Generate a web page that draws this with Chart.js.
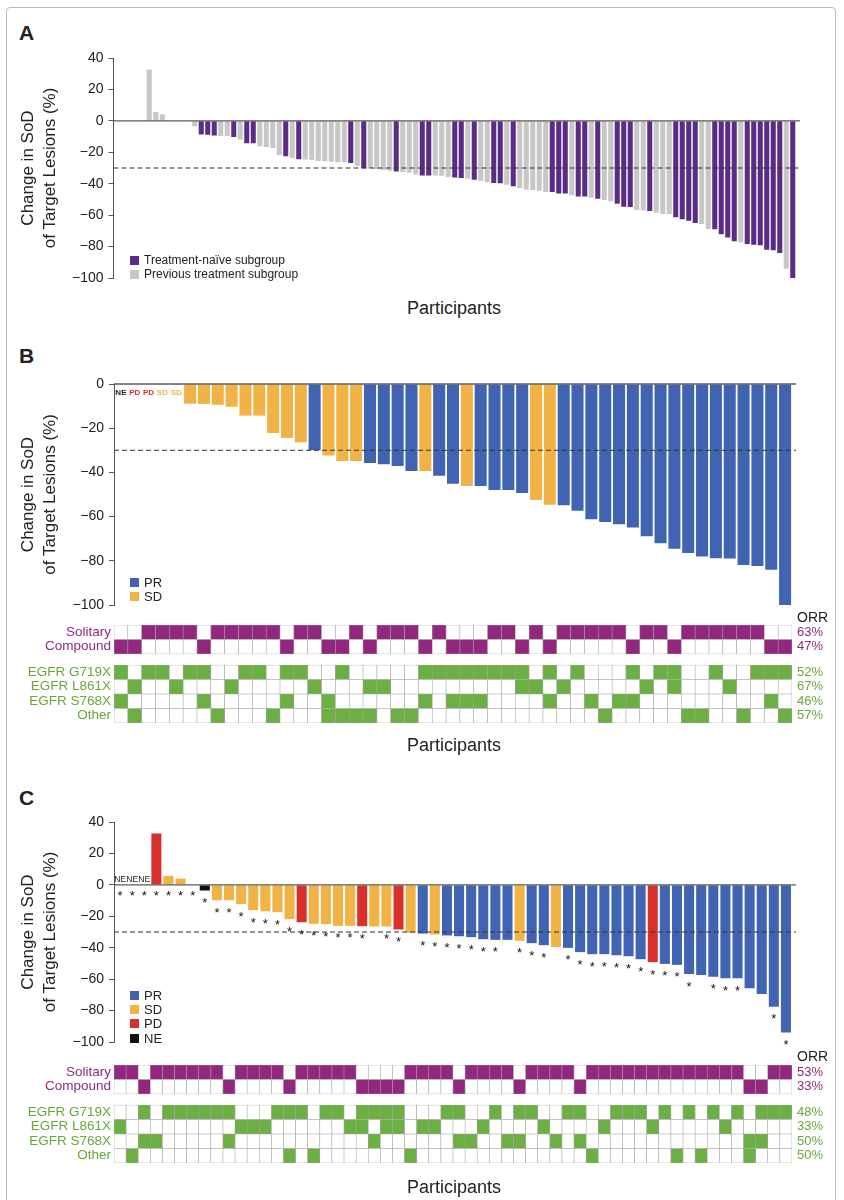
<!DOCTYPE html>
<html>
<head>
<meta charset="utf-8">
<script src="https://cdn.jsdelivr.net/npm/chart.js@4.4.1/dist/chart.umd.min.js"></script>
<style>
html,body{margin:0;padding:0;background:#fff;}
body{font-family:'Liberation Sans',Arial,Helvetica,sans-serif;color:#222;}
#page{position:relative;width:844px;height:1200px;overflow:hidden;}
#frame{position:absolute;left:6px;top:7px;width:828px;height:1400px;border:1.5px solid #a9bfd6;border-radius:4px;}
canvas{position:absolute;left:0;}
.t{position:absolute;white-space:nowrap;line-height:1;}
.letter{font-weight:bold;font-size:21px;}
.part{font-size:18px;left:113px;width:682px;text-align:center;}
.orr{font-size:14px;left:797px;}
.lg{position:absolute;left:130px;white-space:nowrap;}
.lg div{display:flex;align-items:center;}
.lg i{display:inline-block;width:9px;height:9px;margin-right:5px;}
</style>
</head>
<body>
<div id="page">
<div id="frame"></div>

<div class="t letter" style="left:19px;top:22px">A</div>
<div class="t letter" style="left:19px;top:345px">B</div>
<div class="t letter" style="left:19px;top:787px">C</div>

<canvas id="cA" width="844" height="250" style="top:43px"></canvas>
<canvas id="cB" width="844" height="251" style="top:369px"></canvas>
<canvas id="gB" width="844" height="128" style="top:610px"></canvas>
<canvas id="cC" width="844" height="250" style="top:807px"></canvas>
<canvas id="gC" width="844" height="128" style="top:1050px"></canvas>

<div class="lg" style="top:253px;font-size:12px">
  <div style="height:14px"><i style="background:#5b2c86"></i>Treatment-naïve subgroup</div>
  <div style="height:14px"><i style="background:#c7c7c7"></i>Previous treatment subgroup</div>
</div>
<div class="lg" style="top:575.5px;font-size:13px">
  <div style="height:14.3px"><i style="background:#4064b2"></i>PR</div>
  <div style="height:14.3px"><i style="background:#f1b246"></i>SD</div>
</div>
<div class="lg" style="top:988px;font-size:13px">
  <div style="height:14.3px"><i style="background:#4064b2"></i>PR</div>
  <div style="height:14.3px"><i style="background:#f1b246"></i>SD</div>
  <div style="height:14.3px"><i style="background:#d8312b"></i>PD</div>
  <div style="height:14.3px"><i style="background:#111111"></i>NE</div>
</div>

<div class="t part" style="top:299px">Participants</div>
<div class="t part" style="top:736px">Participants</div>
<div class="t part" style="top:1178px">Participants</div>

<div class="t orr" style="top:610px">ORR</div>
<div class="t orr" style="top:1049px">ORR</div>
</div>

<script>
// ---------------- DATA ----------------
const yTitle = ['Change in SoD', 'of Target Lesions (%)'];
const ticksA = [40, 20, 0, -20, -40, -60, -80, -100];
const ticksB = [0, -20, -40, -60, -80, -100];
const ticksC = [40, 20, 0, -20, -40, -60, -80, -100];
const threshold = -30;

// Panel A (null = empty slot)
const valuesA = [null,null,null,null,null, 32.7,5.7,4.2, null,null,null,null,
 -3.4,-8.7,-8.9,-9.3,-9.6,-9.6,-10.2,-11.9,-14.2,-14.2,
 -16.1,-16.6,-17.2,-21.7,-22.5,-23.6,-24.4,-24.6,-24.8,-25.5,
 -25.7,-26.1,-26.3,-26.3,-26.8,-28.7,-30.1,-30.1,-30.6,-31.2,
 -31.8,-32.3,-32.5,-33.1,-34.2,-34.8,-34.8,-34.8,-35.0,-35.7,
 -36.1,
 -36.3,-36.9,-37.4,-38.2,-39.1,-39.5,-39.7,-40.6,-41.6,-42.7,
 -43.7,-44.0,-44.4,-45.2,-45.2,-46.3,-46.3,-47.3,-48.2,-48.2,
 -49.0,-49.5,-50.3,-51.2,-52.7,-54.6,-54.8,-56.7,-57.1,-57.3,
 -58.4,-59.2,-59.2,-61.4,-62.6,-63.5,-65.0,-65.6,-68.8,-69.0,
 -72.2,-74.3,-76.6,-77.3,-78.3,-78.8,-79.2,-82.0,-82.4,-84.1,
 -94.1,-100];
// N = treatment-naive, P = previous treatment
const groupA = [null,null,null,null,null, 'P','P','P', null,null,null,null,
 'P','N','N','N','P','P','N','P','N','N',
 'P','P','P','P','N','P','N','P','P','P',
 'P','P','P','P','N','P','N','P','P','P',
 'P','N','P','P','P','N','N','P','P','P',
 'N',
 'N','P','N','P','P','N','N','P','N','P',
 'P','P','P','P','N','N','N','P','N','N',
 'P','N','P','P','N','N','N','P','P','N',
 'P','P','P','N','N','N','N','P','P','N',
 'N','N','N','P','N','N','N','N','N','N',
 'P','N'];

// Panel B
const valuesB = [null,null,null,null,null,
 -8.9,-9.0,-9.4,-10.3,-14.3,-14.3,-22.2,-24.4,-26.4,-30.0,
 -32.3,-34.8,-34.8,-35.7,-36.3,-37.1,-39.4,-39.4,-41.5,-45.1,
 -46.2,-46.2,-48.0,-48.0,-49.3,-52.5,-54.6,-54.9,-57.3,-61.2,
 -62.4,-63.5,-64.9,-68.9,-72.1,-74.5,-76.5,-78.1,-78.9,-79.0,
 -81.9,-82.4,-84.0,-100];
const responseB = ['NE','PD','PD','SD','SD',
 'SD','SD','SD','SD','SD','SD','SD','SD','SD','PR',
 'SD','SD','SD','PR','PR','PR','PR','SD','PR','PR',
 'SD','PR','PR','PR','PR','SD','SD','PR','PR','PR',
 'PR','PR','PR','PR','PR','PR','PR','PR','PR','PR',
 'PR','PR','PR','PR'];
const solitaryB = [0,0,1,1,1,1,0,1,1,1, 1,1,0,1,1,0,0,1,0,1, 1,1,0,1,0,0,0,1,1,0, 1,0,1,1,1,1,1,0,1,1, 0,1,1,1,1,1,1,0,0];
const compoundB = [1,1,0,0,0,0,1,0,0,0, 0,0,1,0,0,1,1,0,1,0, 0,0,1,0,1,1,1,0,0,1, 0,1,0,0,0,0,0,1,0,0, 1,0,0,0,0,0,0,1,1];
const g719xB    = [1,0,1,1,0,1,1,0,0,1, 1,0,1,1,0,0,1,0,0,0, 0,0,1,1,1,1,1,1,1,1, 0,1,0,1,0,0,0,1,0,1, 1,0,0,1,0,0,1,1,1];
const l861xB    = [0,1,0,0,1,0,0,0,1,0, 0,0,0,0,1,0,0,0,1,1, 0,0,0,0,0,0,0,0,0,1, 1,0,1,0,0,0,0,0,1,0, 1,0,0,0,1,0,0,0,0];
const s768xB    = [1,0,0,0,0,0,1,0,0,0, 0,0,1,0,0,1,0,0,0,0, 0,0,1,0,1,1,1,0,0,0, 0,1,0,0,1,0,1,1,0,0, 0,0,0,0,0,0,0,1,0];
const otherB    = [0,1,0,0,0,0,0,1,0,0, 0,1,0,0,0,1,1,1,1,0, 1,1,0,0,0,0,0,0,0,0, 0,0,0,0,0,1,0,0,0,0, 0,1,1,0,0,1,0,0,1];
const orrB = ['63%','47%','52%','67%','46%','57%'];

// Panel C
const valuesC = [null,null,null, 32.7,5.7,4.0,0,-3.6,-9.8,-9.8,
 -12.3,-16.1,-16.8,-17.4,-21.8,-23.8,-24.8,-25.0,-26.1,-26.1,
 -26.3,-26.5,-26.5,-28.4,-30.5,-31.0,-31.6,-32.2,-32.7,-33.3,
 -34.6,-35.0,-35.0,-35.6,-37.1,-38.4,-39.5,-40.1,-42.8,-44.1,
 -44.1,-44.8,-45.4,-47.3,-49.2,-50.3,-50.9,-56.8,-57.3,-58.5,
 -59.4,-59.4,-65.8,-69.4,-77.6,-94.0];
const responseC = ['NE','NE','NE','PD','SD','SD','SD','NE','SD','SD',
 'SD','SD','SD','SD','SD','PD','SD','SD','SD','SD',
 'PD','SD','SD','PD','SD','PR','SD','PR','PR','PR',
 'PR','PR','PR','SD','PR','PR','SD','PR','PR','PR',
 'PR','PR','PR','PR','PD','PR','PR','PR','PR','PR',
 'PR','PR','PR','PR','PR','PR'];
const starC = [1,1,1,1,1,1,1,1,1,1, 1,1,1,1,1,1,1,1,1,1, 1,0,1,1,0,1,1,1,1,1, 1,1,0,1,1,1,0,1,1,1, 1,1,1,1,1,1,1,1,0,1, 1,1,0,0,1,1];
const solitaryC = [1,1,0,1,1,1,1,1,1,0, 1,1,1,1,0,1,1,1,1,1, 0,0,0,0,1,1,1,1,0,1, 1,1,1,0,1,1,1,1,0,1, 1,1,1,1,1,1,1,1,1,1, 1,1,0,0,1,1];
const compoundC = [0,0,1,0,0,0,0,0,0,1, 0,0,0,0,1,0,0,0,0,0, 1,1,1,1,0,0,0,0,1,0, 0,0,0,1,0,0,0,0,1,0, 0,0,0,0,0,0,0,0,0,0, 0,0,1,1,0,0];
const g719xC = [0,0,1,0,1,1,1,1,1,1, 0,0,0,1,1,1,0,1,1,0, 1,1,1,1,0,0,0,1,1,0, 0,1,0,1,1,0,0,1,1,0, 0,1,1,1,0,1,0,1,0,1, 0,1,0,1,1,1];
const l861xC = [1,0,0,0,0,0,0,0,0,0, 1,1,1,0,0,0,0,0,0,1, 1,0,1,1,0,1,1,0,0,0, 1,0,0,0,0,1,0,0,0,0, 1,0,0,0,1,0,0,0,0,0, 1,0,0,0,0,0];
const s768xC = [0,0,1,1,0,0,0,0,0,1, 0,0,0,0,0,0,0,0,0,0, 0,1,0,0,0,0,0,0,1,1, 0,0,1,1,0,0,1,0,1,0, 0,0,0,0,0,0,0,0,0,0, 0,0,1,1,0,0];
const otherC = [0,1,0,0,0,0,0,0,0,0, 0,0,0,0,1,0,1,0,0,0, 0,0,0,0,1,0,0,0,0,0, 0,0,0,0,0,0,0,0,0,1, 0,0,0,0,0,0,1,0,1,0, 0,0,1,0,0,0];
const orrC = ['53%','33%','48%','33%','50%','50%'];

const rowLabels = ['Solitary','Compound','EGFR G719X','EGFR L861X','EGFR S768X','Other'];

// ---------------- STYLE ----------------
const FONT = "'Liberation Sans', Arial, Helvetica, sans-serif";
Chart.defaults.font.family = FONT;
Chart.defaults.color = '#222';
Chart.defaults.animation = false;

const COL = {N:'#5b2c86', P:'#c7c7c7', PR:'#4064b2', SD:'#f1b246', PD:'#d8312b', NE:'#111111'};
const TXT = {NE:'#222222', PD:'#d8312b', SD:'#f1b246', PR:'#4064b2'};
const purpleCell = '#93267f', greenCell = '#6cb043';
const purpleText = '#8e2a80', greenText = '#67a83d';

const fmt = v => v < 0 ? '\u2212' + Math.abs(v) : String(v);

function overlayPlugin(values, resp, mode, stars) {
  return {
    id: 'overlay',
    afterDatasetsDraw(chart) {
      const {ctx, chartArea: ca, scales: {x, y}} = chart;
      const right = ca.right + 4;
      ctx.save();
      const y0 = y.getPixelForValue(0);
      ctx.strokeStyle = '#5a5a5a'; ctx.lineWidth = 1.3;
      ctx.beginPath(); ctx.moveTo(ca.left, y0); ctx.lineTo(right, y0); ctx.stroke();
      const yt = y.getPixelForValue(threshold);
      ctx.setLineDash([5, 3]); ctx.strokeStyle = '#333'; ctx.lineWidth = 1.1;
      ctx.beginPath(); ctx.moveTo(ca.left, yt); ctx.lineTo(right, yt); ctx.stroke();
      ctx.setLineDash([]);
      if (mode) {
        ctx.textAlign = 'center'; ctx.textBaseline = 'middle';
        values.forEach((v, i) => {
          if (v !== null) return;
          const px = x.getPixelForValue(i);
          if (mode === 'below') {
            ctx.font = 'bold 8px ' + FONT; ctx.fillStyle = TXT[resp[i]];
            ctx.fillText(resp[i], px, y0 + 9);
          } else {
            ctx.font = '8.5px ' + FONT; ctx.fillStyle = '#222';
            ctx.fillText(resp[i], px, y0 - 5);
          }
        });
      }
      if (stars) {
        ctx.textAlign = 'center'; ctx.textBaseline = 'alphabetic';
        ctx.font = '13px ' + FONT; ctx.fillStyle = '#111';
        stars.forEach((s, i) => {
          if (!s) return;
          const v = values[i];
          const px = x.getPixelForValue(i);
          const cy = (v === null || v >= 0) ? y0 + 8 : y.getPixelForValue(v) + 9;
          ctx.fillText('*', px, cy + 7.4);
        });
      }
      ctx.restore();
    }
  };
}

function barChart(id, values, colors, ticks, leftW, rightPad, catPct, plugin) {
  return new Chart(document.getElementById(id), {
    type: 'bar',
    data: {
      labels: values.map((_, i) => i + 1),
      datasets: [{data: values, backgroundColor: colors, borderWidth: 0,
                  barPercentage: 1, categoryPercentage: catPct}]
    },
    options: {
      responsive: false, maintainAspectRatio: false, animation: false,
      layout: {padding: {top: 15, bottom: 15, left: 0, right: rightPad}},
      plugins: {legend: {display: false}, tooltip: {enabled: false}},
      scales: {
        x: {type: 'category', display: false, offset: true},
        y: {
          min: Math.min(...ticks), max: Math.max(...ticks),
          afterBuildTicks: ax => { ax.ticks = ticks.map(v => ({value: v})); },
          afterFit: ax => { ax.width = leftW; },
          ticks: {callback: v => fmt(v), font: {size: 14}, color: '#222', padding: 5, autoSkip: false},
          grid: {drawOnChartArea: false, drawTicks: true, tickLength: 5, color: '#555', lineWidth: 1},
          border: {display: true, color: '#555', width: 1},
          title: {display: true, text: yTitle, font: {size: 17, lineHeight: 1.3}, color: '#222', padding: {top: 17, bottom: 0}}
        }
      }
    },
    plugins: [plugin]
  });
}

// Panel A
barChart('cA', valuesA, groupA.map(g => g ? COL[g] : 'transparent'), ticksA, 113.5, 48, 0.78,
  overlayPlugin(valuesA, null, null, null));
// Panel B
barChart('cB', valuesB, responseB.map(r => COL[r]), ticksB, 114, 52, 0.87,
  overlayPlugin(valuesB, responseB, 'below', null));
// Panel C
barChart('cC', valuesC, responseC.map(r => COL[r]), ticksC, 114, 52, 0.83,
  overlayPlugin(valuesC, responseC, 'above', starC));

// Grids
const ROW_GAP = 0.76;
function gridChart(id, sol, comp, g, l, s, o, orr) {
  const n = sol.length;
  const rowsBottomUp = [
    {cells: o, fill: greenCell}, {cells: s, fill: greenCell},
    {cells: l, fill: greenCell}, {cells: g, fill: greenCell},
    {gap: true},
    {cells: comp, fill: purpleCell}, {cells: sol, fill: purpleCell}
  ];
  const datasets = rowsBottomUp.map(r => r.gap ? {
      data: new Array(n).fill(ROW_GAP), backgroundColor: 'transparent', borderWidth: 0,
      barPercentage: 1, categoryPercentage: 1
    } : {
      data: new Array(n).fill(1),
      backgroundColor: r.cells.map(c => c ? r.fill : '#ffffff'),
      borderColor: '#a3a3a3', borderWidth: 0.6, borderSkipped: false,
      barPercentage: 1, categoryPercentage: 1
    });
  const top = 6 + ROW_GAP;
  const centers = [0.5, 1.5, 2.5, 3.5, 4.5 + ROW_GAP, 5.5 + ROW_GAP];
  const labelsBottomUp = rowLabels.slice().reverse();
  const orrBottomUp = orr.slice().reverse();
  const tickColor = ctx => ctx.index >= 4 ? purpleText : greenText;
  return new Chart(document.getElementById(id), {
    type: 'bar',
    data: {labels: sol.map((_, i) => i + 1), datasets},
    options: {
      responsive: false, maintainAspectRatio: false, animation: false,
      layout: {padding: {top: 15, bottom: 15, left: 0, right: 0}},
      plugins: {legend: {display: false}, tooltip: {enabled: false}},
      scales: {
        x: {stacked: true, display: false, offset: true},
        y: {
          stacked: true, min: 0, max: top,
          afterBuildTicks: ax => { ax.ticks = centers.map(v => ({value: v})); },
          afterFit: ax => { ax.width = 114; },
          ticks: {callback: (v, i) => labelsBottomUp[i], font: {size: 13.5}, color: tickColor, padding: 3, autoSkip: false},
          grid: {display: false, drawTicks: false}, border: {display: false}
        },
        y2: {
          position: 'right', min: 0, max: top,
          afterBuildTicks: ax => { ax.ticks = centers.map(v => ({value: v})); },
          afterFit: ax => { ax.width = 52; },
          ticks: {callback: (v, i) => orrBottomUp[i], font: {size: 13}, color: tickColor, padding: 5, autoSkip: false},
          grid: {display: false, drawTicks: false}, border: {display: false}
        }
      }
    }
  });
}
gridChart('gB', solitaryB, compoundB, g719xB, l861xB, s768xB, otherB, orrB);
gridChart('gC', solitaryC, compoundC, g719xC, l861xC, s768xC, otherC, orrC);
</script>
</body>
</html>
